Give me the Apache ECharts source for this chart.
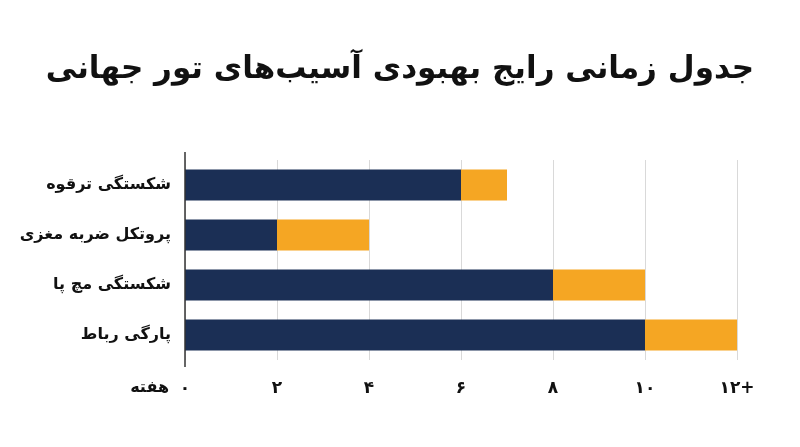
<!DOCTYPE html><html><head><meta charset="utf-8"><script src="https://cdn.jsdelivr.net/npm/echarts@6/dist/echarts.min.js"></script></head><body style="margin:0"><div id="c" style="width:800px;height:447px"></div><script>
const categories=['شکستگی ترقوه','پروتکل ضربه مغزی','شکستگی مچ پا','پارگی رباط'];
const baseWeeks=[6,2,8,10];
const extraWeeks=[1,2,2,2];
const tickLabels={0:'۰',2:'۲',4:'۴',6:'۶',8:'۸',10:'۱۰',12:'۱۲+'};
const F='DejaVu Sans';
const ch=echarts.init(document.getElementById('c'));
ch.setOption({
 title:{text:'جدول زمانی رایج بهبودی آسیب‌های تور جهانی',left:'center',top:49,textStyle:{fontFamily:F,fontSize:31,fontWeight:'bold',color:'#111'}},
 grid:{left:185,right:63,top:160,height:200},
 xAxis:{type:'value',min:0,max:12,interval:2,
  name:'هفته',nameLocation:'start',nameGap:16,nameTextStyle:{fontFamily:F,fontSize:16,fontWeight:'bold',color:'#111',padding:[20,0,0,0],verticalAlign:'top'},
  axisLabel:{formatter:v=>tickLabels[v],fontFamily:F,fontSize:17,fontWeight:'bold',color:'#111',margin:20},
  axisLine:{show:false},axisTick:{show:false},
  splitLine:{lineStyle:{color:'#d9d9d9',width:1}}},
 yAxis:{type:'category',data:categories,inverse:true,
  axisLabel:{fontFamily:F,fontSize:16,fontWeight:'bold',color:'#111',margin:14},
  axisLine:{show:false},axisTick:{show:false}},
 graphic:[{type:'line',shape:{x1:185,y1:152,x2:185,y2:367},style:{stroke:'#333',lineWidth:1.5},z:100}],
 series:[
  {type:'bar',stack:'s',data:baseWeeks,barWidth:31,itemStyle:{color:'#1b2f55'}},
  {type:'bar',stack:'s',data:extraWeeks,barWidth:31,itemStyle:{color:'#f5a623'}}
 ]
});
</script></body></html>
